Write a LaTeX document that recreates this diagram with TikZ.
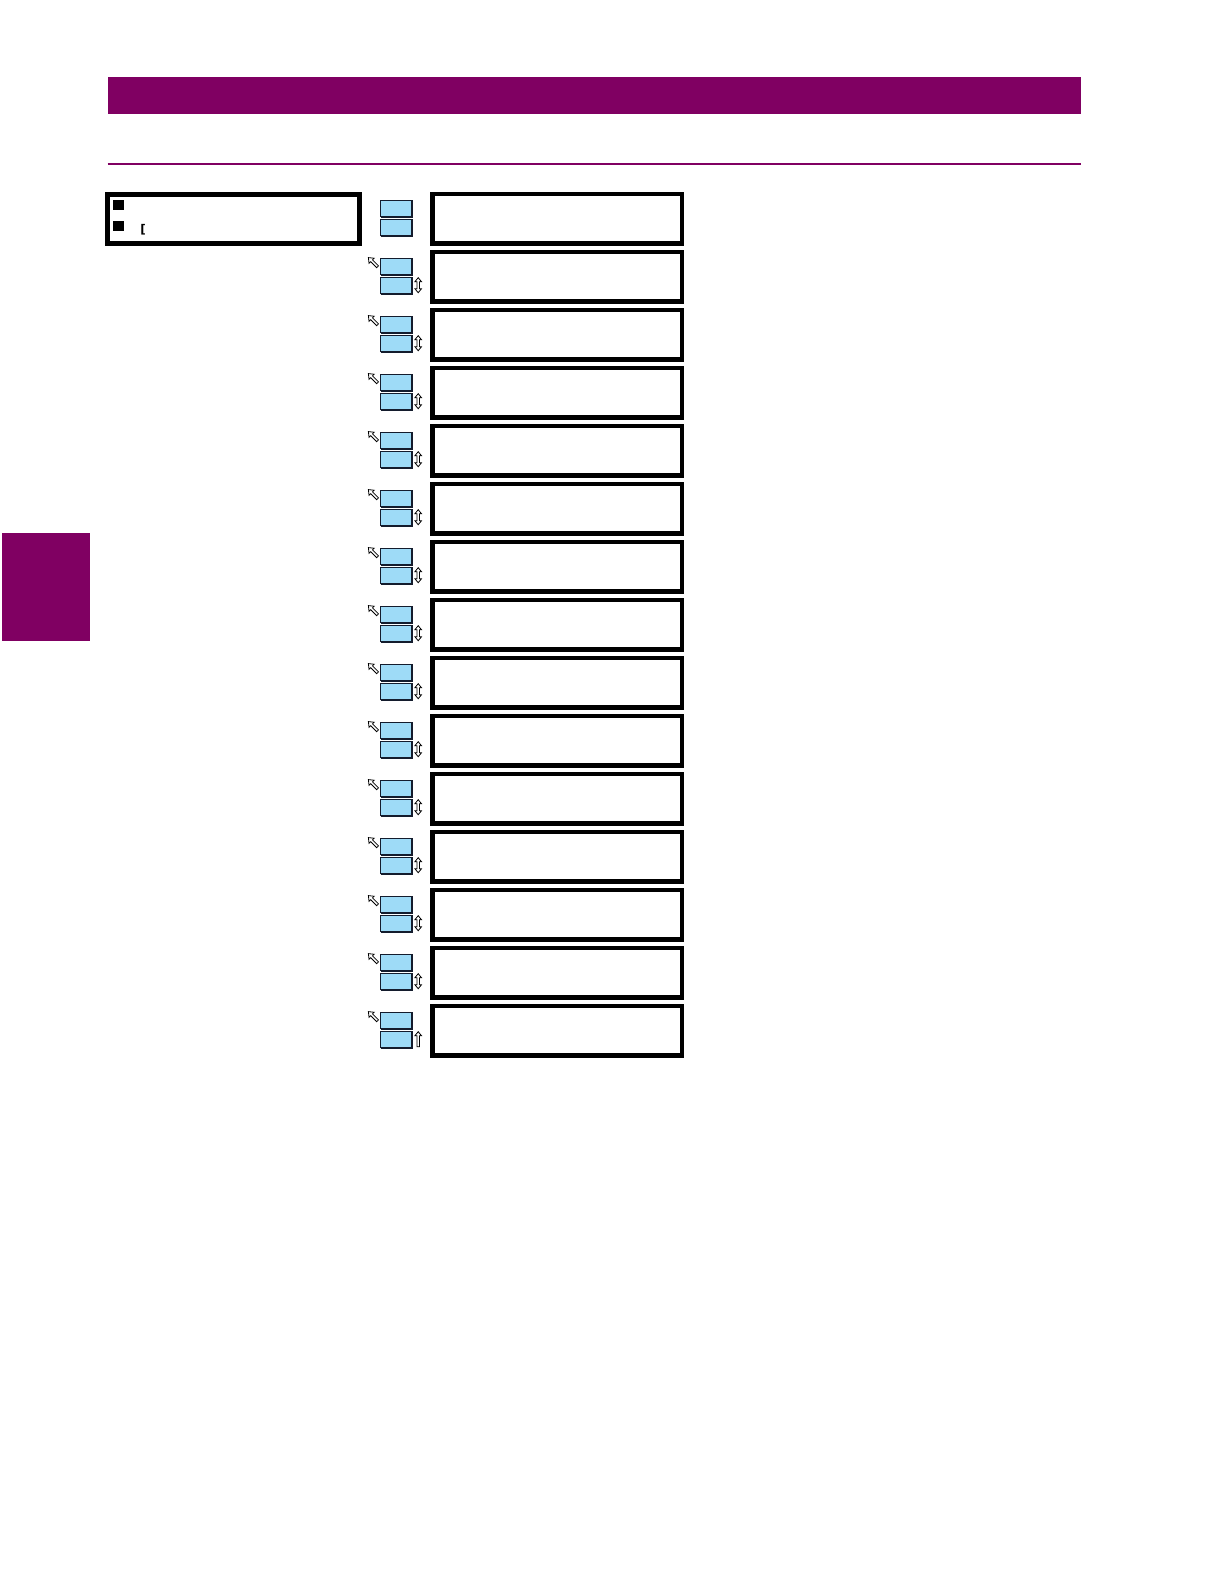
\documentclass[tikz,border=0pt]{standalone}
\usepackage{fontspec}
\usepackage{tikz}
\newfontfamily\brkfont{DejaVu Sans}
\definecolor{gepurple}{RGB}{128,0,98}
\definecolor{keyblue}{RGB}{158,219,247}
\definecolor{keyedge}{RGB}{20,28,45}
\tikzset{
  dispbox/.style={draw=black, line width=4.5pt, fill=white, minimum width=249.5pt, minimum height=49.5pt, inner sep=0pt},
  keybox/.style={draw=keyedge, line width=1pt, fill=keyblue, minimum width=31pt, minimum height=16pt, inner sep=0pt},
  iconline/.style={draw=black, line width=0.8pt, fill=white, line join=miter},
}
\newcommand{\keyshadow}[1]{%
  \draw[keyedge, line width=1.1pt] ([xshift=0.4pt,yshift=-0.3pt]#1.south west) -- ([xshift=0.4pt,yshift=-0.3pt]#1.south east) -- ([xshift=0.4pt]#1.north east);}
\begin{document}
\begin{tikzpicture}[x=1pt,y=-1pt]
\useasboundingbox (0,0) rectangle (1224,1584);
% header bar and rule
\fill[gepurple] (107.5,77) rectangle (1081,114);
\draw[gepurple, line width=2pt] (107.5,164) -- (1081,164);
% side tab
\fill[gepurple] (2,532.5) rectangle (90,641);
% left menu box
\node[draw=black, line width=5pt, minimum width=252pt, minimum height=49pt, inner sep=0pt] (menu) at (233.5,219) {};
\fill[black] (113,200) rectangle (124,210);
\fill[black] (113,221) rectangle (124,231);
\node[font=\brkfont\bfseries\fontsize{12}{12}\selectfont, inner sep=0pt] (brk) at (143,230) {[};
% display boxes and keys
\foreach \i in {1,...,15}{
  \pgfmathsetmacro{\top}{191.7+58*(\i-1)}
  \node[dispbox] (d\i) at (557,\top+27) {};
  \node[keybox] (ku\i) at (396.2,\top+16.5) {};
  \node[keybox] (kd\i) at (396.2,\top+36) {};
  \keyshadow{ku\i}
  \keyshadow{kd\i}
}
% icons: north-west hollow arrows (rows 2..15)
\foreach \i in {2,...,15}{
  \pgfmathsetmacro{\top}{191.7+58*(\i-1)}
  \begin{scope}[shift={(373,\top+12.5)}, rotate=45]
    \path[iconline] (0,-6.5) -- (3.6,-2) -- (1.3,-2) -- (1.3,6.5) -- (-1.3,6.5) -- (-1.3,-2) -- (-3.6,-2) -- cycle;
  \end{scope}
}
% up-down hollow arrows (rows 2..14)
\foreach \i in {2,...,14}{
  \pgfmathsetmacro{\top}{191.7+58*(\i-1)}
  \begin{scope}[shift={(418.2,\top+35.5)}]
    \path[iconline] (0,-7.5) -- (3.3,-3.5) -- (1.3,-3.5) -- (1.3,3.5) -- (3.3,3.5) -- (0,7.5) -- (-3.3,3.5) -- (-1.3,3.5) -- (-1.3,-3.5) -- (-3.3,-3.5) -- cycle;
  \end{scope}
}
% last row: up hollow arrow
\pgfmathsetmacro{\lasttop}{191.7+58*14}
\begin{scope}[shift={(418.2,\lasttop+35.5)}]
  \path[iconline] (0,-7.5) -- (3.3,-3.5) -- (1.3,-3.5) -- (1.3,7.5) -- (-1.3,7.5) -- (-1.3,-3.5) -- (-3.3,-3.5) -- cycle;
\end{scope}
\end{tikzpicture}
\end{document}
